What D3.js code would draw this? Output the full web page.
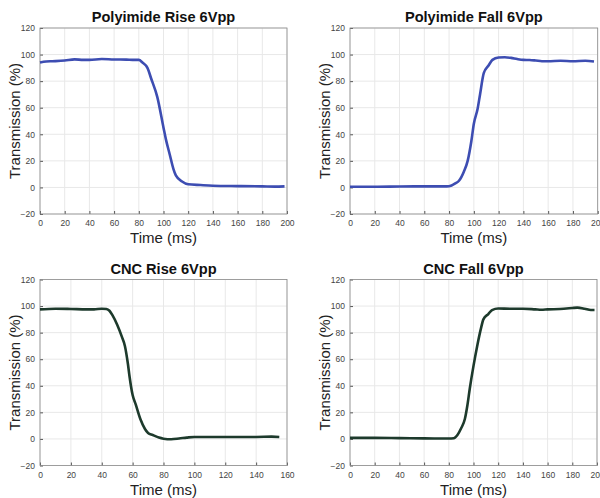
<!DOCTYPE html>
<html>
<head>
<meta charset="utf-8">
<script src="https://cdn.jsdelivr.net/npm/d3@7"></script>
<style>
  body { margin: 0; background: #fff; }
  svg { display: block; }
</style>
</head>
<body>
<div id="main"></div>
<script>
// panel titles
const titles = ['Polyimide Rise 6Vpp', 'Polyimide Fall 6Vpp', 'CNC Rise 6Vpp', 'CNC Fall 6Vpp'];
// time (ms) / transmission (%) pairs
const polyRiseT = [0, 5, 10, 20, 28, 35, 40, 50, 60, 70, 75, 80, 83, 87, 90, 95, 100, 102, 105, 108, 110, 115, 120, 130, 140, 160, 180, 190, 198];
const polyRiseV = [94, 94.8, 95, 95.5, 96.4, 96, 96, 96.7, 96.3, 96.2, 96, 96, 94, 90, 82, 68, 45, 36, 25, 14, 9, 4.5, 2.4, 1.8, 1.3, 1, 0.8, 0.6, 0.8];
const polyFallT = [0, 20, 40, 60, 78, 82, 85, 88, 92, 95, 98, 100, 103, 105, 108, 112, 115, 120, 125, 130, 135, 140, 145, 150, 155, 160, 170, 180, 190, 197];
const polyFallV = [0.5, 0.5, 0.7, 0.8, 0.8, 1.5, 3, 5, 12, 20, 35, 48, 59, 70, 86, 92, 96, 97.8, 98, 97.5, 96.6, 96, 95.9, 95.5, 95, 95, 95.3, 95, 95.3, 94.8];
const cncRiseT = [0, 10, 20, 30, 35, 40, 43, 45, 47, 50, 53, 55, 57, 58, 60, 62, 65, 68, 70, 73, 77, 80, 85, 90, 95, 100, 110, 120, 130, 140, 150, 155];
const cncRiseV = [97.5, 98, 97.8, 97.5, 97.5, 98, 97.8, 96.5, 93, 86, 77, 70, 56, 47, 33, 26, 15, 7.5, 4.5, 3, 1, 0.2, -0.2, 0.3, 1, 1.5, 1.5, 1.5, 1.5, 1.5, 1.7, 1.5];
const cncFallT = [0, 20, 40, 60, 80, 84, 87, 90, 93, 95, 97, 100, 103, 106, 108, 112, 115, 120, 130, 140, 150, 155, 160, 170, 180, 184, 190, 195, 198];
const cncFallV = [0.8, 0.8, 0.6, 0.4, 0.3, 0.5, 3, 8, 15, 25, 38, 55, 70, 83, 90, 94, 97, 98.2, 98, 98, 97.5, 97.2, 97.5, 97.8, 98.5, 98.8, 98, 97, 97];
const yTicks = [-20, 0, 20, 40, 60, 80, 100, 120];

const width = 600;
const height = 498;
const svg = d3.select('#main').append('svg')
  .attr('width', width)
  .attr('height', height);

// one entry per panel: plot box, x range, line colour
const panels = [
  { t: polyRiseT, v: polyRiseV, x0: 40, x1: 287, y0: 28, y1: 214, xMax: 200, color: '#3d4db2' },
  { t: polyFallT, v: polyFallV, x0: 350, x1: 597.7, y0: 28, y1: 214, xMax: 200, color: '#3d4db2' },
  { t: cncRiseT, v: cncRiseV, x0: 40, x1: 287, y0: 279.5, y1: 465.5, xMax: 160, color: '#1d3a2c' },
  { t: cncFallT, v: cncFallV, x0: 350, x1: 597, y0: 279.5, y1: 465.5, xMax: 200, color: '#1d3a2c' }
];

panels.forEach((p, i) => {
  const x = d3.scaleLinear().domain([0, p.xMax]).range([p.x0, p.x1]);
  const y = d3.scaleLinear().domain([-20, 120]).range([p.y1, p.y0]);
  const xTicks = d3.range(0, p.xMax + 1, 20);
  const g = svg.append('g');

  // grid
  g.selectAll('.gx').data(xTicks).enter().append('line')
    .attr('x1', d => x(d)).attr('x2', d => x(d))
    .attr('y1', p.y0).attr('y2', p.y1)
    .attr('stroke', '#e8e8e8').attr('stroke-width', 1);
  g.selectAll('.gy').data(yTicks).enter().append('line')
    .attr('x1', p.x0).attr('x2', p.x1)
    .attr('y1', d => y(d)).attr('y2', d => y(d))
    .attr('stroke', '#e8e8e8').attr('stroke-width', 1);

  // axes with inward ticks
  const xAxis = g.append('g').attr('transform', `translate(0,${p.y1})`)
    .call(d3.axisBottom(x).tickValues(xTicks).tickSize(-3).tickPadding(6));
  const yAxis = g.append('g').attr('transform', `translate(${p.x0},0)`)
    .call(d3.axisLeft(y).tickValues(yTicks).tickSize(-3).tickPadding(5));
  [xAxis, yAxis].forEach(a => {
    a.select('.domain').remove();
    a.selectAll('line').attr('stroke', '#555');
    a.selectAll('text').attr('fill', '#444')
      .style('font-family', 'Liberation Sans, Arial, sans-serif')
      .style('font-size', '8.5px');
  });

  // box
  g.append('rect')
    .attr('x', p.x0).attr('y', p.y0)
    .attr('width', p.x1 - p.x0).attr('height', p.y1 - p.y0)
    .attr('fill', 'none').attr('stroke', '#8a8a8a').attr('stroke-width', 0.8);

  // data line
  const line = d3.line()
    .x((d, k) => x(p.t[k]))
    .y(d => y(d))
    .curve(d3.curveMonotoneX);
  g.append('path')
    .datum(p.v)
    .attr('d', line)
    .attr('fill', 'none')
    .attr('stroke', p.color)
    .attr('stroke-width', 2.6)
    .attr('stroke-linejoin', 'round');

  const cx = (p.x0 + p.x1) / 2;
  // title
  g.append('text')
    .attr('x', cx).attr('y', p.y0 - 6)
    .attr('text-anchor', 'middle')
    .style('font-family', 'Liberation Sans, Arial, sans-serif')
    .style('font-weight', 'bold')
    .style('font-size', '14.6px')
    .attr('fill', '#111')
    .text(titles[i]);
  // x label
  g.append('text')
    .attr('x', cx).attr('y', p.y1 + 29)
    .attr('text-anchor', 'middle')
    .style('font-family', 'Liberation Sans, Arial, sans-serif')
    .style('font-size', '15px')
    .attr('fill', '#222')
    .text('Time (ms)');
  // y label
  g.append('text')
    .attr('transform', `translate(${p.x0 - 20},${(p.y0 + p.y1) / 2}) rotate(-90)`)
    .attr('text-anchor', 'middle')
    .style('font-family', 'Liberation Sans, Arial, sans-serif')
    .style('font-size', '15px')
    .attr('fill', '#222')
    .text('Transmission (%)');
});
</script>
</body>
</html>
